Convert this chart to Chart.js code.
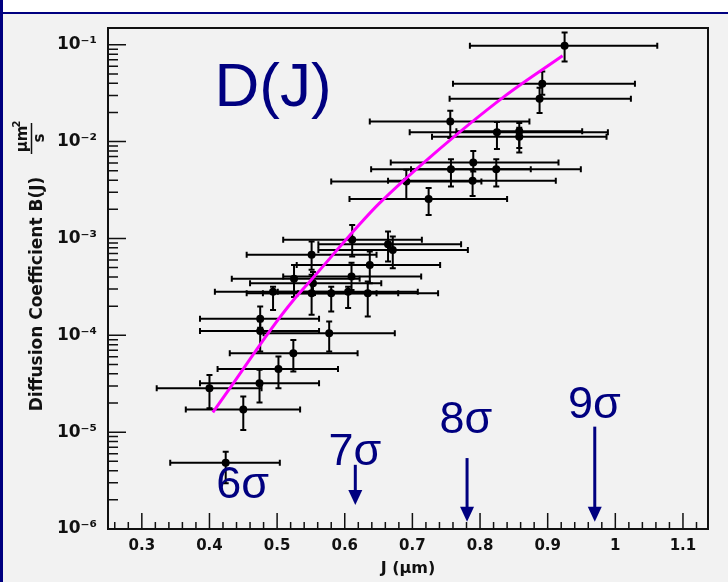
<!DOCTYPE html>
<html>
<head>
<meta charset="utf-8">
<script src="https://cdn.jsdelivr.net/npm/chart.js@4.4.1/dist/chart.umd.min.js"></script>
<style>
  html, body { margin: 0; padding: 0; background: #f2f2f2; }
  #wrap { position: relative; width: 728px; height: 582px; overflow: hidden; }
  #dChart { position: absolute; left: 0; top: 0; }
  #topStrip { position: absolute; left: 0; top: 0; width: 728px; height: 12px; background: #fff; border-bottom: 2px solid #000080; }
  #leftEdge { position: absolute; left: 0; top: 0; width: 3px; height: 582px; background: #000080; }
</style>
</head>
<body>
<div id="wrap">
  <canvas id="dChart" width="728" height="582"></canvas>
  <div id="topStrip"></div>
  <div id="leftEdge"></div>
</div>
<script>
// measured points: J (um), B(J) (um^2/s) with error ranges
const pointJ = [0.925, 0.892, 0.888, 0.756, 0.825, 0.858, 0.858, 0.790, 0.757, 0.824,
                0.789, 0.691, 0.724, 0.611, 0.664, 0.671, 0.551, 0.637, 0.610, 0.553,
                0.525, 0.494, 0.551, 0.580, 0.605, 0.634, 0.475, 0.475, 0.577, 0.524,
                0.502, 0.474, 0.400, 0.450, 0.424];
const pointB = [0.0977, 0.0395, 0.0277, 0.0161, 0.0125, 0.0128, 0.0112, 0.00608, 0.00518, 0.00518,
                0.00394, 0.00387, 0.00255, 9.68e-4, 8.73e-4, 7.62e-4, 6.78e-4, 5.33e-4, 4.04e-4, 3.45e-4,
                3.83e-4, 2.82e-4, 2.72e-4, 2.72e-4, 2.82e-4, 2.72e-4, 1.48e-4, 1.11e-4, 1.05e-4, 6.53e-5,
                4.5e-5, 3.2e-5, 2.84e-5, 1.71e-5, 4.84e-6];
const jLow  = [0.785, 0.760, 0.755, 0.637, 0.696, 0.765, 0.729, 0.668, 0.639, 0.698,
               0.664, 0.580, 0.607, 0.509, 0.561, 0.561, 0.455, 0.529, 0.509, 0.460,
               0.433, 0.408, 0.455, 0.479, 0.501, 0.531, 0.386, 0.386, 0.480, 0.430,
               0.412, 0.386, 0.322, 0.365, 0.342];
const jHigh = [1.062, 1.029, 1.023, 0.873, 0.989, 0.951, 0.987, 0.916, 0.875, 0.949,
               0.912, 0.802, 0.840, 0.714, 0.772, 0.782, 0.647, 0.741, 0.713, 0.654,
               0.622, 0.580, 0.647, 0.679, 0.708, 0.738, 0.562, 0.562, 0.674, 0.619,
               0.590, 0.562, 0.477, 0.534, 0.504];
const bLow  = [0.0673, 0.0304, 0.0197, 0.0109, 0.0084, 0.0086, 0.0077, 0.0049, 0.00343, 0.00343,
               0.00275, 0.00255, 0.00175, 6.5e-4, 5.77e-4, 4.93e-4, 4.74e-4, 3.45e-4, 2.94e-4, 2.6e-4,
               2.49e-4, 1.83e-4, 1.63e-4, 1.76e-4, 1.91e-4, 1.56e-4, 1.2e-4, 6.8e-5, 6.8e-5, 4.22e-5,
               2.84e-5, 2.02e-5, 1.77e-5, 1.05e-5, 2.96e-6];
const bHigh = [0.134, 0.053, 0.036, 0.0208, 0.0159, 0.0156, 0.0139, 0.0080, 0.00659, 0.00659,
               0.00512, 0.00512, 0.00331, 0.00138, 0.00118, 0.00105, 9.29e-4, 7.33e-4, 5.6e-4, 4.5e-4,
               5.33e-4, 3.18e-4, 4.21e-4, 3.18e-4, 3.18e-4, 3.59e-4, 1.98e-4, 1.4e-4, 1.39e-4, 8.95e-5,
               6.03e-5, 4.4e-5, 3.9e-5, 2.33e-5, 6.29e-6];

// fitted curve D(J)
const fitJ = [0.405, 0.430, 0.492, 0.524, 0.550, 0.622, 0.651, 0.725, 0.838, 0.922];
const fitB = [1.6e-5, 2.83e-5, 1.18e-4, 2.3e-4, 3.7e-4, 1.4e-3, 2.3e-3, 6.8e-3, 3.0e-2, 7.7e-2];

// sigma annotations
const sigmaLabels = ['6σ', '7σ', '8σ', '9σ'];
const sigmaJ      = [0.449, 0.615, 0.779, 0.969];
const sigmaTextB  = [2.07e-6, 4.58e-6, 9.75e-6, 1.39e-5];
const arrowJ      = [0.6156, 0.7808, 0.9696];
const arrowFromB  = [4.6e-6, 5.4e-6, 1.14e-5];
const arrowToB    = [1.77e-6, 1.19e-6, 1.19e-6];

const xTickValues = [0.3, 0.4, 0.5, 0.6, 0.7, 0.8, 0.9, 1.0, 1.1];
const xTickLabels = ['0.3', '0.4', '0.5', '0.6', '0.7', '0.8', '0.9', '1', '1.1'];
const yTickValues = [1e-6, 1e-5, 1e-4, 1e-3, 1e-2, 1e-1];
const yTickLabels = ['10⁻⁶', '10⁻⁵', '10⁻⁴', '10⁻³', '10⁻²', '10⁻¹'];

const NAVY = '#000080';

// ROOT-like frame, inner ticks, error bars and text
const rootPlot = {
    id: 'rootPlot',
    beforeDatasetsDraw(chart) {
        const { ctx, scales: { x, y } } = chart;
        ctx.save();
        ctx.strokeStyle = '#000';
        ctx.lineWidth = 2;
        for (let i = 0; i < pointJ.length; i++) {
            const px = x.getPixelForValue(pointJ[i]);
            const py = y.getPixelForValue(pointB[i]);
            const x0 = x.getPixelForValue(jLow[i]), x1 = x.getPixelForValue(jHigh[i]);
            const y0 = y.getPixelForValue(bLow[i]), y1 = y.getPixelForValue(bHigh[i]);
            ctx.beginPath();
            ctx.moveTo(x0, py); ctx.lineTo(x1, py);
            ctx.moveTo(x0, py - 3); ctx.lineTo(x0, py + 3);
            ctx.moveTo(x1, py - 3); ctx.lineTo(x1, py + 3);
            ctx.moveTo(px, y0); ctx.lineTo(px, y1);
            ctx.moveTo(px - 3, y0); ctx.lineTo(px + 3, y0);
            ctx.moveTo(px - 3, y1); ctx.lineTo(px + 3, y1);
            ctx.stroke();
        }
        ctx.restore();
    },
    afterDraw(chart) {
        const { ctx, chartArea: a, scales: { x, y } } = chart;
        ctx.save();

        // ticks inside the frame
        ctx.strokeStyle = '#111';
        ctx.lineWidth = 1.5;
        ctx.beginPath();
        for (let k = 13; k <= 56; k++) {
            const v = k * 0.02;
            const p = x.getPixelForValue(v);
            const len = (k % 5 === 0) ? 16 : 7;
            ctx.moveTo(p, a.bottom); ctx.lineTo(p, a.bottom - len);
        }
        for (let d = -6; d <= -1; d++) {
            for (let m = 1; m <= 9; m++) {
                const v = m * Math.pow(10, d);
                if (v > y.max) continue;
                const p = y.getPixelForValue(v);
                const len = (m === 1) ? 18 : 10;
                ctx.moveTo(a.left, p); ctx.lineTo(a.left + len, p);
            }
        }
        ctx.stroke();

        // frame
        ctx.lineWidth = 2;
        ctx.strokeRect(a.left, a.top, a.right - a.left, a.bottom - a.top);

        // y axis title with unit fraction
        ctx.fillStyle = '#111';
        ctx.save();
        ctx.rotate(-Math.PI / 2);
        ctx.textAlign = 'center';
        ctx.textBaseline = 'middle';
        ctx.font = 'bold 17px "DejaVu Sans"';
        ctx.fillText('Diffusion Coefficient B(J)', -294, 38);
        ctx.font = 'bold 15px "DejaVu Sans"';
        ctx.fillText('μm', -139, 23);
        ctx.fillText('s', -138, 40);
        ctx.font = 'bold 10px "DejaVu Sans"';
        ctx.fillText('2', -124, 17);
        ctx.lineWidth = 1.5;
        ctx.beginPath();
        ctx.moveTo(-154, 31.5); ctx.lineTo(-123, 31.5);
        ctx.stroke();
        ctx.restore();

        // annotations
        ctx.fillStyle = NAVY;
        ctx.strokeStyle = NAVY;
        ctx.textAlign = 'center';
        ctx.textBaseline = 'alphabetic';
        ctx.font = '62px "Liberation Sans"';
        ctx.fillText('D(J)', x.getPixelForValue(0.494), y.getPixelForValue(0.0234));
        ctx.font = '45px "Liberation Sans"';
        sigmaLabels.forEach((s, i) => {
            ctx.fillText(s, x.getPixelForValue(sigmaJ[i]), y.getPixelForValue(sigmaTextB[i]));
        });
        ctx.lineWidth = 3;
        arrowJ.forEach((j, i) => {
            const px = x.getPixelForValue(j);
            const yFrom = y.getPixelForValue(arrowFromB[i]);
            const yTo = y.getPixelForValue(arrowToB[i]);
            ctx.beginPath();
            ctx.moveTo(px, yFrom); ctx.lineTo(px, yTo - 12);
            ctx.stroke();
            ctx.beginPath();
            ctx.moveTo(px - 7, yTo - 15); ctx.lineTo(px + 7, yTo - 15); ctx.lineTo(px, yTo);
            ctx.closePath();
            ctx.fill();
        });
        ctx.restore();
    }
};

const ctx = document.getElementById('dChart').getContext('2d');
new Chart(ctx, {
    data: {
        datasets: [
            {
                type: 'line',
                label: 'fit',
                data: fitJ.map((j, i) => ({ x: j, y: fitB[i] })),
                borderColor: '#ff00ff',
                borderWidth: 3,
                pointRadius: 0,
                cubicInterpolationMode: 'monotone',
                fill: false,
                order: 0
            },
            {
                type: 'scatter',
                label: 'data',
                data: pointJ.map((j, i) => ({ x: j, y: pointB[i] })),
                backgroundColor: '#000',
                borderWidth: 0,
                pointRadius: 4,
                order: 1
            }
        ]
    },
    options: {
        responsive: false,
        animation: false,
        devicePixelRatio: 1,
        layout: { padding: { top: 28, right: 20, left: 0, bottom: 0 } },
        scales: {
            x: {
                type: 'linear',
                min: 0.25,
                max: 1.137,
                grid: { display: false, drawTicks: false },
                border: { display: false },
                afterBuildTicks: s => { s.ticks = xTickValues.map(v => ({ value: v })); },
                afterFit: s => { s.height = 53; },
                ticks: {
                    autoSkip: false,
                    maxRotation: 0,
                    padding: 8,
                    color: '#111',
                    font: { family: 'DejaVu Sans', weight: 'bold', size: 15 },
                    callback: (v, i) => xTickLabels[i]
                },
                title: {
                    display: true,
                    text: 'J (μm)',
                    color: '#111',
                    padding: { top: 0, bottom: 4 },
                    font: { family: 'DejaVu Sans', weight: 'bold', size: 16 }
                }
            },
            y: {
                type: 'logarithmic',
                min: 1e-6,
                max: 0.149,
                grid: { display: false, drawTicks: false },
                border: { display: false },
                afterBuildTicks: s => { s.ticks = yTickValues.map(v => ({ value: v })); },
                afterFit: s => { s.width = 108; },
                ticks: {
                    autoSkip: false,
                    padding: 11,
                    color: '#111',
                    font: { family: 'DejaVu Sans', weight: 'bold', size: 17 },
                    callback: (v, i) => yTickLabels[i]
                }
            }
        },
        plugins: {
            legend: { display: false },
            tooltip: { enabled: false }
        }
    },
    plugins: [rootPlot]
});
</script>
</body>
</html>
